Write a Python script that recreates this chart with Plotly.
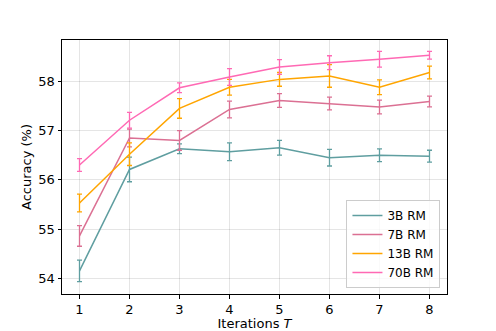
import plotly.graph_objects as go

iterations = [1, 2, 3, 4, 5, 6, 7, 8]

acc_3b = [54.15, 56.21, 56.63, 56.57, 56.65, 56.45, 56.50, 56.48]
err_3b = [0.22, 0.25, 0.10, 0.18, 0.15, 0.17, 0.13, 0.12]

acc_7b = [54.86, 56.85, 56.80, 57.43, 57.61, 57.55, 57.48, 57.59]
err_7b = [0.21, 0.18, 0.20, 0.17, 0.14, 0.13, 0.14, 0.11]

acc_13b = [55.53, 56.52, 57.45, 57.88, 58.04, 58.11, 57.88, 58.18]
err_13b = [0.18, 0.23, 0.20, 0.16, 0.14, 0.23, 0.15, 0.13]

acc_70b = [56.30, 57.21, 57.87, 58.09, 58.29, 58.38, 58.45, 58.53]
err_70b = [0.13, 0.16, 0.10, 0.17, 0.15, 0.14, 0.16, 0.08]

series = [
    ("3B RM", acc_3b, err_3b, "#5F9EA0"),
    ("7B RM", acc_7b, err_7b, "#DB7093"),
    ("13B RM", acc_13b, err_13b, "#FFA500"),
    ("70B RM", acc_70b, err_70b, "#FF69B4"),
]

fig = go.Figure()
for name, y, e, c in series:
    fig.add_trace(go.Scatter(
        x=iterations, y=y, name=name, mode="lines",
        line=dict(color=c, width=1.5),
        error_y=dict(type="data", array=e, visible=True, color=c,
                     thickness=1.3, width=2.5),
    ))

axis_common = dict(
    showline=True, linecolor="black", linewidth=1, mirror=True,
    ticks="outside", ticklen=3.5, tickwidth=0.8, tickcolor="black",
    showgrid=True, gridcolor="rgba(0,0,0,0.1)", gridwidth=1,
    zeroline=False, tickfont=dict(size=13, color="black"), automargin=False,
)

fig.update_xaxes(range=[0.65, 8.35], tickvals=iterations,
                 title=dict(text="Iterations <i>T</i>", font=dict(size=13, color="black"), standoff=4),
                 **axis_common)
fig.update_yaxes(range=[53.68, 58.84], tickvals=[54, 55, 56, 57, 58],
                 title=dict(text="Accuracy (%)", font=dict(size=13, color="black"), standoff=3),
                 **axis_common)

fig.update_layout(
    width=496, height=331,
    margin=dict(l=62, r=49, t=40, b=37),
    paper_bgcolor="white", plot_bgcolor="white",
    font=dict(family="DejaVu Sans", size=13, color="black"),
    showlegend=True,
    legend=dict(x=0.983, y=0.024, xanchor="right", yanchor="bottom",
                bgcolor="rgba(255,255,255,0.8)", bordercolor="#cccccc", borderwidth=1,
                font=dict(size=12), tracegroupgap=0, itemwidth=30),
)

fig.write_html("out.html", config={"displayModeBar": False},
               post_script="document.body.style.margin='0';")
